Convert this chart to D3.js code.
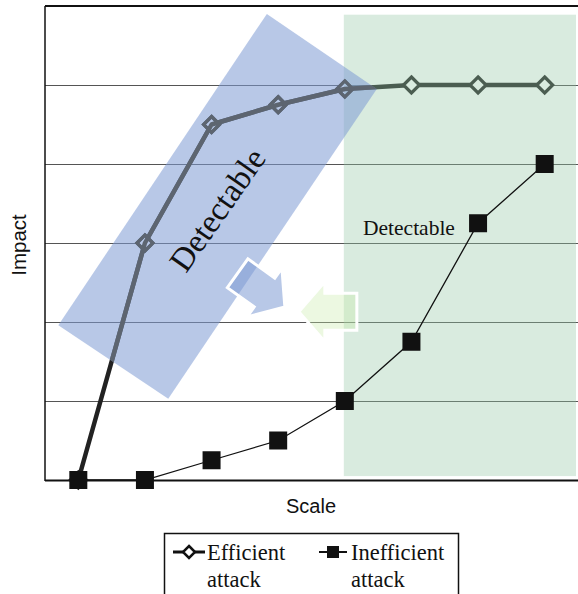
<!DOCTYPE html>
<html>
<head>
<meta charset="utf-8">
<script src="https://cdn.jsdelivr.net/npm/d3@7/dist/d3.min.js"></script>
<style>
  html, body { margin: 0; padding: 0; background: #fff; }
  svg { display: block; }
</style>
</head>
<body>
<div id="chart"></div>
<script>
// ---- data ----
const categories = ["1", "2", "3", "4", "5", "6", "7", "8"];
const efficientValues = [0, 3.0, 4.5, 4.75, 4.95, 5, 5, 5];
const inefficientValues = [0, 0, 0.25, 0.5, 1.0, 1.75, 3.25, 4.0];
const yTicks = [1, 2, 3, 4, 5];
const seriesNames = ["Efficient attack", "Inefficient attack"];
const axisLabels = { x: "Scale", y: "Impact" };
const annotationText = "Detectable";

// ---- layout ----
const W = 578, H = 594;
const plot = { left: 45, right: 578, top: 6, bottom: 480 };

const svg = d3.select("#chart").append("svg").attr("width", W).attr("height", H);

const x = d3.scalePoint().domain(categories).range([plot.left, plot.right]).padding(0.5);
const y = d3.scaleLinear().domain([0, 6]).range([plot.bottom, plot.top]);
// continuous helper over category index for annotation shapes
const xi = d3.scaleLinear().domain([0, categories.length - 1]).range([x(categories[0]), x(categories[categories.length - 1])]);
const P = (i, v) => [xi(i), y(v)];

// gridlines
svg.append("g").selectAll("line").data(yTicks).join("line")
  .attr("x1", plot.left).attr("x2", plot.right)
  .attr("y1", d => y(d) + 0.5).attr("y2", d => y(d) + 0.5)
  .attr("stroke", "#555").attr("stroke-width", 1);

// axes frame
svg.append("line").attr("x1", plot.left).attr("x2", plot.right).attr("y1", y(6)).attr("y2", y(6))
  .attr("stroke", "#111").attr("stroke-width", 2);
svg.append("line").attr("x1", plot.left).attr("x2", plot.right).attr("y1", y(0) + 0.5).attr("y2", y(0) + 0.5)
  .attr("stroke", "#111").attr("stroke-width", 2);
svg.append("line").attr("x1", plot.left).attr("x2", plot.left).attr("y1", y(6)).attr("y2", y(0) + 1)
  .attr("stroke", "#111").attr("stroke-width", 1.5);

// efficient series (drawn under translucent panels)
const line = d3.line().x((d, i) => x(categories[i])).y(d => y(d));
const diamond = "M0,-8L8,0L0,8L-8,0Z";
function drawEfficient(parent, stroke, fill) {
  parent.append("path").datum(efficientValues).attr("d", line)
    .attr("fill", "none").attr("stroke", stroke).attr("stroke-width", 4.5).attr("stroke-linejoin", "round");
  parent.append("g").selectAll("path").data(efficientValues).join("path")
    .attr("d", diamond)
    .attr("transform", (d, i) => `translate(${x(categories[i])},${y(d)})`)
    .attr("fill", fill).attr("stroke", stroke).attr("stroke-width", 3.2);
}
drawEfficient(svg, "#222", "#fff");

// green detectable panel
const g0 = P(4, 5.89), g1 = P(7.47, 0.05);
svg.append("rect")
  .attr("x", g0[0] - 1).attr("y", g0[1]).attr("width", g1[0] - g0[0] + 1).attr("height", g1[1] - g0[1])
  .attr("fill", "rgba(150,200,165,0.36)");

// blue rotated detectable panel
const bluePts = [P(2.83, 5.90), P(4.48, 4.95), P(1.35, 1.03), P(-0.30, 1.96)];
const bluePointsStr = bluePts.map(p => p.join(",")).join(" ");
svg.append("polygon").attr("points", bluePointsStr)
  .attr("fill", "rgba(125,155,212,0.55)");

// the efficient series seen through the blue panel looks slate grey
svg.append("clipPath").attr("id", "blueClip").append("polygon").attr("points", bluePointsStr);
const through = svg.append("g").attr("clip-path", "url(#blueClip)");
drawEfficient(through, "#5d6570", "none");

// inefficient series
svg.append("path").datum(inefficientValues).attr("d", line)
  .attr("fill", "none").attr("stroke", "#111").attr("stroke-width", 1.3);
svg.append("g").selectAll("rect").data(inefficientValues).join("rect")
  .attr("x", (d, i) => x(categories[i]) - 9).attr("y", d => y(d) - 9)
  .attr("width", 18).attr("height", 18)
  .attr("fill", "#111");

// blue arrow (pointing down-right)
const arrowLocal = [[0,0],[-25,-30],[-25,-17.7],[-58,-17.7],[-58,17.7],[-25,17.7],[-25,30]];
const bt = P(3.10, 2.19);
svg.append("polygon").attr("points", arrowLocal.map(p => p.join(",")).join(" "))
  .attr("transform", `translate(${bt[0]},${bt[1]}) rotate(35.5)`)
  .attr("fill", "rgba(125,155,212,0.55)").attr("stroke", "#fff").attr("stroke-width", 3)
  .attr("stroke-linejoin", "miter");

// green arrow (pointing left)
const gt = P(3.31, 2.13);
const greenLocal = [[0,0],[26,-30],[26,-18.5],[58,-18.5],[58,18.5],[26,18.5],[26,30]];
svg.append("polygon").attr("points", greenLocal.map(p => p.join(",")).join(" "))
  .attr("transform", `translate(${gt[0]},${gt[1]})`)
  .attr("fill", "rgba(200,235,170,0.35)").attr("stroke", "#fff").attr("stroke-width", 3);

// annotation texts
const tb = P(2.09, 3.42);
svg.append("text").attr("transform", `translate(${tb[0]},${tb[1]}) rotate(-55)`)
  .attr("text-anchor", "middle").attr("dominant-baseline", "central")
  .attr("font-family", "Liberation Serif, serif").attr("font-size", 33).attr("fill", "#111")
  .text(annotationText);
svg.append("text").attr("x", 363).attr("y", 235)
  .attr("font-family", "Liberation Serif, serif").attr("font-size", 21.5).attr("fill", "#111")
  .text(annotationText);

// axis labels
svg.append("text").attr("x", 311).attr("y", 513).attr("text-anchor", "middle")
  .attr("font-family", "Liberation Sans, Arial, sans-serif").attr("font-size", 20).attr("fill", "#111")
  .text(axisLabels.x);
svg.append("text").attr("transform", "translate(26,245) rotate(-90)").attr("text-anchor", "middle")
  .attr("font-family", "Liberation Sans, Arial, sans-serif").attr("font-size", 20.5).attr("fill", "#111")
  .text(axisLabels.y);

// legend
const lg = svg.append("g");
lg.append("rect").attr("x", 164.5).attr("y", 533.5).attr("width", 294).attr("height", 80)
  .attr("fill", "#fff").attr("stroke", "#111").attr("stroke-width", 1.5);
lg.append("line").attr("x1", 173).attr("x2", 205).attr("y1", 552).attr("y2", 552)
  .attr("stroke", "#111").attr("stroke-width", 3);
lg.append("path").attr("d", "M0,-6L6,0L0,6L-6,0Z").attr("transform", "translate(189,552)")
  .attr("fill", "#fff").attr("stroke", "#111").attr("stroke-width", 2.5);
lg.append("line").attr("x1", 319).attr("x2", 347).attr("y1", 552).attr("y2", 552)
  .attr("stroke", "#111").attr("stroke-width", 2);
lg.append("rect").attr("x", 327).attr("y", 546).attr("width", 12).attr("height", 12).attr("fill", "#111");
const legendText = [
  { x: 207, words: seriesNames[0].split(" ") },
  { x: 351, words: seriesNames[1].split(" ") }
];
legendText.forEach(t => {
  t.words.forEach((w, k) => {
    lg.append("text").attr("x", t.x).attr("y", 560 + k * 27)
      .attr("font-family", "Liberation Serif, serif").attr("font-size", 22.5).attr("fill", "#111")
      .text(w);
  });
});
</script>
</body>
</html>
